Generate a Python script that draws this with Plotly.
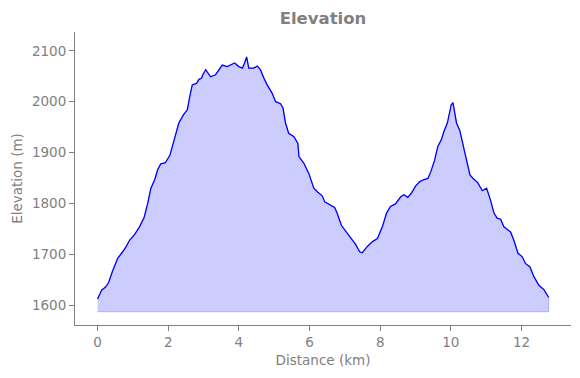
import plotly.graph_objects as go

distance_km = [0.00, 0.12, 0.22, 0.31, 0.42, 0.57, 0.71, 0.80, 0.91, 1.04, 1.18, 1.32, 1.42, 1.51,
               1.62, 1.70, 1.79, 1.92, 2.05, 2.12, 2.21, 2.30, 2.43, 2.54, 2.61, 2.68, 2.80, 2.87,
               2.94, 2.98, 3.06, 3.12, 3.20, 3.34, 3.43, 3.53, 3.67, 3.76, 3.88, 4.00, 4.10, 4.16,
               4.22, 4.28, 4.42, 4.52, 4.61, 4.71, 4.80, 4.94, 5.04, 5.18, 5.25, 5.32, 5.41, 5.56,
               5.67, 5.70, 5.84, 5.98, 6.12, 6.22, 6.36, 6.43, 6.59, 6.71, 6.78, 6.90, 7.07, 7.21,
               7.30, 7.42, 7.49, 7.63, 7.78, 7.92, 8.06, 8.18, 8.29, 8.43, 8.58, 8.67, 8.78, 8.88,
               9.00, 9.12, 9.24, 9.35, 9.43, 9.54, 9.63, 9.73, 9.80, 9.90, 9.94, 10.01, 10.06, 10.10,
               10.16, 10.25, 10.37, 10.54, 10.63, 10.76, 10.89, 11.01, 11.12, 11.22, 11.31, 11.41,
               11.50, 11.69, 11.78, 11.90, 12.02, 12.11, 12.24, 12.35, 12.49, 12.63, 12.77]
elevation_m = [1612, 1630, 1635, 1644, 1666, 1692, 1705, 1714, 1728, 1738, 1753, 1773, 1800, 1830,
               1847, 1866, 1878, 1880, 1895, 1912, 1935, 1958, 1974, 1984, 2010, 2033, 2036, 2044,
               2046, 2053, 2063, 2056, 2049, 2053, 2063, 2072, 2069, 2072, 2076, 2069, 2066, 2076,
               2088, 2066, 2066, 2070, 2063, 2046, 2033, 2017, 2000, 1996, 1987, 1958, 1938, 1931,
               1918, 1892, 1879, 1859, 1830, 1823, 1815, 1803, 1797, 1792, 1781, 1757, 1741, 1728,
               1720, 1705, 1703, 1715, 1725, 1731, 1754, 1781, 1794, 1799, 1813, 1817, 1812, 1820,
               1834, 1843, 1847, 1849, 1862, 1885, 1912, 1925, 1941, 1958, 1971, 1994, 1998, 1984,
               1958, 1944, 1905, 1856, 1849, 1841, 1825, 1830, 1807, 1781, 1771, 1769,
               1754, 1744, 1728, 1702, 1695, 1682, 1675, 1656, 1639, 1631, 1615]
fill_base_m = 1587

x_ticks = [0, 2, 4, 6, 8, 10, 12]
y_ticks = [1600, 1700, 1800, 1900, 2000, 2100]

gray = "#808080"
font = "DejaVu Sans"

fig = go.Figure()
fig.add_trace(go.Scatter(
    x=distance_km + distance_km[::-1],
    y=elevation_m + [fill_base_m] * len(distance_km),
    fill="toself", fillcolor="rgba(0,0,255,0.2)",
    line=dict(color="rgba(0,0,255,0.22)", width=1),
    mode="lines", hoverinfo="skip", showlegend=False))
fig.add_trace(go.Scatter(
    x=distance_km, y=elevation_m, mode="lines",
    line=dict(color="#0000ff", width=1.3), showlegend=False))

axis_common = dict(showline=True, linecolor=gray, linewidth=1.1, ticks="outside",
                   ticklen=5, tickwidth=1.1, tickcolor=gray, showgrid=False, zeroline=False,
                   tickfont=dict(family=font, size=13.5, color=gray), mirror=False)

fig.update_layout(
    width=580, height=378,
    margin=dict(l=75, r=9, t=32, b=53),
    paper_bgcolor="white", plot_bgcolor="white",
    title=dict(text="<b>Elevation</b>", x=323 / 580, xanchor="center",
               y=1 - 18 / 378, yanchor="middle",
               font=dict(family=font, size=16.5, color=gray)),
    xaxis=dict(range=[-0.638, 13.40], tickvals=x_ticks,
               title=dict(text="Distance (km)", font=dict(family=font, size=13.5, color=gray), standoff=6),
               **axis_common),
    yaxis=dict(range=[1561, 2137], tickvals=y_ticks,
               title=dict(text="Elevation (m)", font=dict(family=font, size=13.5, color=gray), standoff=6),
               **axis_common),
)

fig.write_html("out.html", config={"displayModeBar": False},
               post_script="document.body.style.margin='0';")
